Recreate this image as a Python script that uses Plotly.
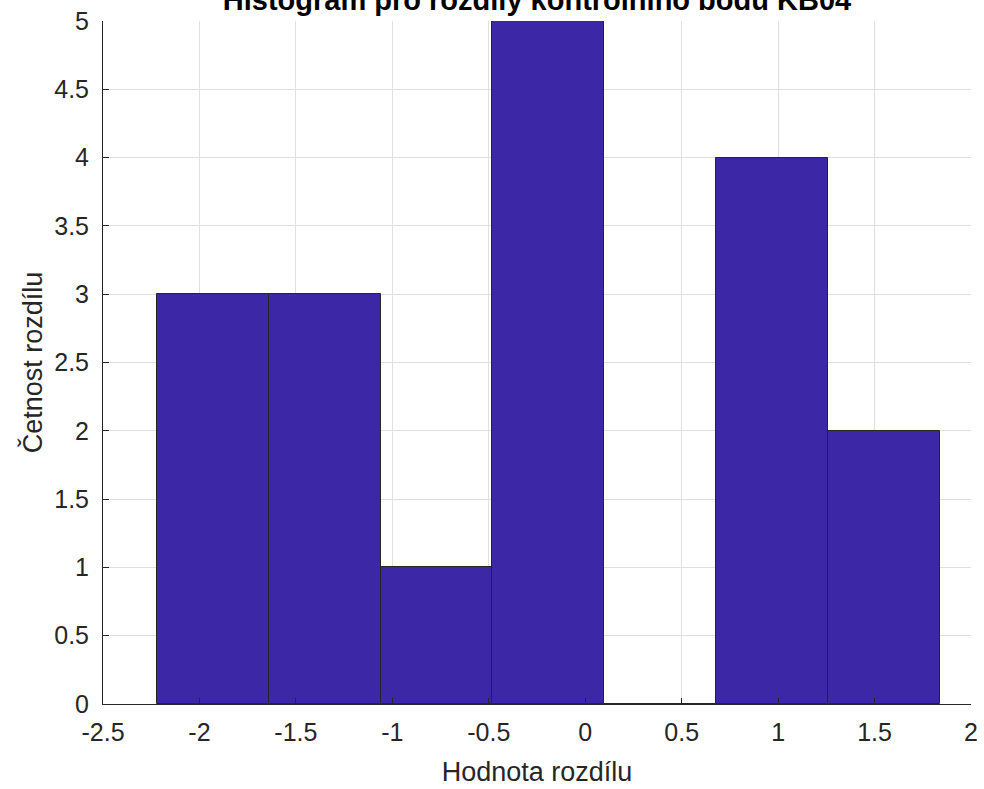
import plotly.graph_objects as go

# Histogram bin edges and counts
bin_edges = [-2.222, -1.642, -1.061, -0.481, 0.099, 0.679, 1.259, 1.839]
counts = [3, 3, 1, 5, 0, 4, 2]
x_ticks = [-2.5, -2, -1.5, -1, -0.5, 0, 0.5, 1, 1.5, 2]
x_tick_labels = ["-2.5", "-2", "-1.5", "-1", "-0.5", "0", "0.5", "1", "1.5", "2"]
y_ticks = [0, 0.5, 1, 1.5, 2, 2.5, 3, 3.5, 4, 4.5, 5]
y_tick_labels = ["0", "0.5", "1", "1.5", "2", "2.5", "3", "3.5", "4", "4.5", "5"]

centers = [(a + b) / 2 for a, b in zip(bin_edges[:-1], bin_edges[1:])]
widths = [b - a for a, b in zip(bin_edges[:-1], bin_edges[1:])]

FONT = "Liberation Sans, Arial, Helvetica, sans-serif"

fig = go.Figure()
fig.add_trace(go.Bar(
    x=centers, y=counts, width=widths,
    marker=dict(color="#3C28A6", line=dict(color="#262626", width=1)),
    showlegend=False,
))

fig.update_layout(
    width=984, height=789,
    margin=dict(l=103, r=13, t=21, b=85, autoexpand=False),
    paper_bgcolor="white", plot_bgcolor="white",
    bargap=0,
    font=dict(family=FONT, color="#262626"),
    title=dict(
        text="<b>Histogram pro rozdíly kontrolního bodu KB04</b>",
        x=0.5, xanchor="center", xref="paper",
        y=1.0, yanchor="middle", yref="container",
        font=dict(size=29, color="#000000", family=FONT),
        automargin=False,
    ),
    xaxis=dict(
        range=[-2.5, 2], tickmode="array", tickvals=x_ticks, ticktext=x_tick_labels,
        showgrid=True, gridcolor="#e0e0e0", gridwidth=1,
        showline=True, linecolor="#262626", linewidth=1,
        ticks="inside", ticklen=6, tickcolor="#262626",
        zeroline=False, tickfont=dict(size=25, color="#262626"),
        ticklabelstandoff=6, automargin=False,
        title=dict(text="Hodnota rozdílu", font=dict(size=27, color="#262626"), standoff=17),
    ),
    yaxis=dict(
        range=[0, 5], tickmode="array", tickvals=y_ticks, ticktext=y_tick_labels,
        showgrid=True, gridcolor="#e0e0e0", gridwidth=1,
        showline=True, linecolor="#262626", linewidth=1,
        ticks="inside", ticklen=6, tickcolor="#262626",
        zeroline=False, tickfont=dict(size=25, color="#262626"),
        ticklabelstandoff=8, automargin=False,
        title=dict(text="Četnost rozdílu", font=dict(size=27, color="#262626"), standoff=3),
    ),
)

fig.write_html(
    "out.html",
    config={"displayModeBar": False},
    post_script="document.body.style.margin='0';document.body.style.overflow='hidden';",
)
